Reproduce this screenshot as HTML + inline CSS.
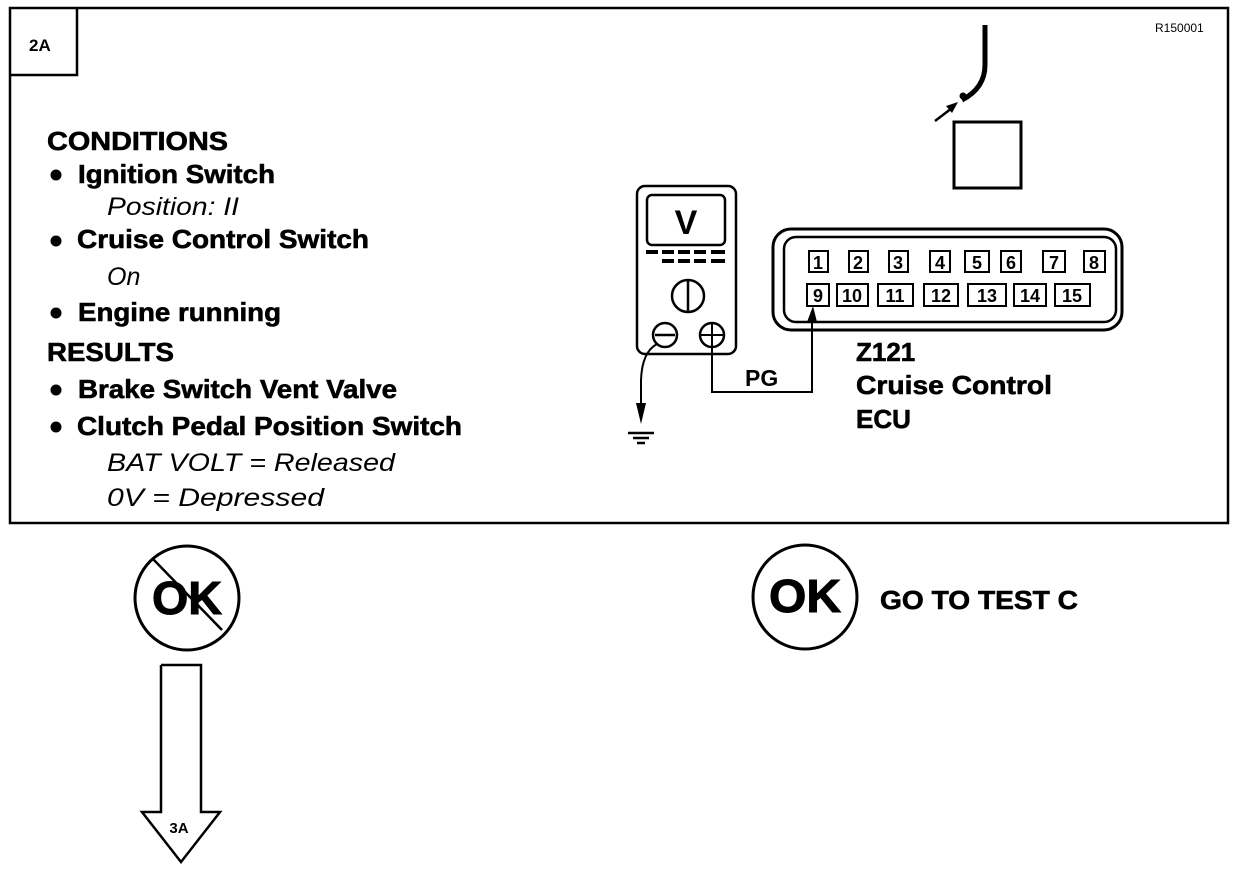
<!DOCTYPE html>
<html><head><meta charset="utf-8"><style>
html,body{margin:0;padding:0;background:#fff;}
svg{display:block;}
text{font-family:"Liberation Sans",Arial,sans-serif;fill:#000;}
.b{font-weight:bold;font-size:26px;stroke:#000;stroke-width:0.6;}
.i{font-style:italic;font-size:25px;}
</style></head><body>
<svg width="1248" height="872" viewBox="0 0 1248 872" xmlns="http://www.w3.org/2000/svg">
<rect x="10" y="8" width="1218" height="515" fill="none" stroke="#000" stroke-width="2.5"/>
<polyline points="10,75 77,75 77,8" fill="none" stroke="#000" stroke-width="2.5"/>
<text x="29" y="51" font-weight="bold" font-size="17">2A</text>
<text x="1155" y="32" font-size="12">R150001</text>

<text class="b" x="47" y="150" textLength="181" lengthAdjust="spacingAndGlyphs">CONDITIONS</text>
<circle cx="56" cy="175" r="5.5"/>
<text class="b" x="78" y="183" textLength="197" lengthAdjust="spacingAndGlyphs">Ignition Switch</text>
<text class="i" x="107" y="215" textLength="132" lengthAdjust="spacingAndGlyphs">Position: II</text>
<circle cx="56" cy="241" r="5.5"/>
<text class="b" x="77" y="248" textLength="292" lengthAdjust="spacingAndGlyphs">Cruise Control Switch</text>
<text class="i" x="107" y="285">On</text>
<circle cx="56" cy="313" r="5.5"/>
<text class="b" x="78" y="321" textLength="203" lengthAdjust="spacingAndGlyphs">Engine running</text>
<text class="b" x="47" y="361" textLength="127" lengthAdjust="spacingAndGlyphs">RESULTS</text>
<circle cx="56" cy="390" r="5.5"/>
<text class="b" x="78" y="398" textLength="319" lengthAdjust="spacingAndGlyphs">Brake Switch Vent Valve</text>
<circle cx="56" cy="427" r="5.5"/>
<text class="b" x="77" y="435" textLength="385" lengthAdjust="spacingAndGlyphs">Clutch Pedal Position Switch</text>
<text class="i" x="107" y="471" textLength="288" lengthAdjust="spacingAndGlyphs">BAT VOLT =  Released</text>
<text class="i" x="107" y="506" textLength="217" lengthAdjust="spacingAndGlyphs">0V =  Depressed</text>

<path d="M985,25 L985,65 Q985,88 962,100" fill="none" stroke="#000" stroke-width="5"/>
<circle cx="963" cy="96" r="3.5"/>
<line x1="935" y1="121" x2="952" y2="108" stroke="#000" stroke-width="2.5"/>
<polygon points="958,102 946,106 952,113" />
<rect x="954" y="122" width="67" height="66" fill="none" stroke="#000" stroke-width="3"/>

<rect x="637" y="186" width="99" height="168" rx="8" fill="none" stroke="#000" stroke-width="2.5"/>
<rect x="647" y="195" width="78" height="50" rx="5" fill="none" stroke="#000" stroke-width="2.5"/>
<text x="686" y="234" font-weight="bold" font-size="34" text-anchor="middle">V</text>
<g fill="#000">
<rect x="646" y="250" width="12" height="4"/><rect x="662" y="250" width="12" height="4"/><rect x="678" y="250" width="12" height="4"/><rect x="694" y="250" width="12" height="4"/><rect x="711" y="250" width="14" height="4"/>
<rect x="662" y="259" width="12" height="4"/><rect x="678" y="259" width="12" height="4"/><rect x="694" y="259" width="12" height="4"/><rect x="711" y="259" width="14" height="4"/>
</g>
<circle cx="688" cy="296" r="16" fill="none" stroke="#000" stroke-width="2.5"/>
<line x1="688" y1="280" x2="688" y2="312" stroke="#000" stroke-width="2.5"/>
<circle cx="665" cy="335" r="12" fill="none" stroke="#000" stroke-width="2.5"/>
<line x1="655" y1="335" x2="675" y2="335" stroke="#000" stroke-width="2.5"/>
<circle cx="712" cy="335" r="12" fill="none" stroke="#000" stroke-width="2.5"/>
<line x1="700" y1="335" x2="724" y2="335" stroke="#000" stroke-width="2"/>
<line x1="712" y1="323" x2="712" y2="347" stroke="#000" stroke-width="2"/>
<path d="M657,344 Q642,352 641,380 L641,412" fill="none" stroke="#000" stroke-width="2"/>
<polygon points="636,403 646,403 641,424"/>
<line x1="628" y1="433" x2="654" y2="433" stroke="#000" stroke-width="2.5"/>
<line x1="633" y1="438" x2="649" y2="438" stroke="#000" stroke-width="2.5"/>
<line x1="637" y1="443" x2="645" y2="443" stroke="#000" stroke-width="2.5"/>
<polyline points="712,347 712,392 812,392 812,316" fill="none" stroke="#000" stroke-width="2"/>
<polygon points="807,322 817,322 813,306"/>
<text x="745" y="386" font-weight="bold" font-size="23">PG</text>

<rect x="773" y="229" width="349" height="101" rx="18" fill="none" stroke="#000" stroke-width="3"/>
<rect x="784" y="237" width="332" height="85" rx="12" fill="none" stroke="#000" stroke-width="2.5"/>
<g fill="none" stroke="#000" stroke-width="2">
<rect x="809" y="251" width="19" height="21"/><rect x="849" y="251" width="19" height="21"/><rect x="889" y="251" width="19" height="21"/><rect x="930" y="251" width="20" height="21"/>
<rect x="965" y="251" width="24" height="21"/><rect x="1001" y="251" width="20" height="21"/><rect x="1043" y="251" width="22" height="21"/><rect x="1084" y="251" width="21" height="21"/>
<rect x="807" y="284" width="22" height="22"/><rect x="837" y="284" width="31" height="22"/><rect x="878" y="284" width="35" height="22"/><rect x="924" y="284" width="34" height="22"/>
<rect x="968" y="284" width="38" height="22"/><rect x="1014" y="284" width="32" height="22"/><rect x="1055" y="284" width="35" height="22"/>
</g>
<g font-size="18" font-weight="bold" text-anchor="middle">
<text x="818" y="269">1</text><text x="858" y="269">2</text><text x="898" y="269">3</text><text x="940" y="269">4</text>
<text x="977" y="269">5</text><text x="1011" y="269">6</text><text x="1054" y="269">7</text><text x="1094" y="269">8</text>
<text x="818" y="302">9</text><text x="852" y="302">10</text><text x="895" y="302">11</text><text x="941" y="302">12</text>
<text x="987" y="302">13</text><text x="1030" y="302">14</text><text x="1072" y="302">15</text>
</g>
<text class="b" x="856" y="361" font-size="25">Z121</text>
<text class="b" x="856" y="394" font-size="25" textLength="196" lengthAdjust="spacingAndGlyphs">Cruise Control</text>
<text class="b" x="856" y="428" font-size="25">ECU</text>

<circle cx="187" cy="598" r="52" fill="none" stroke="#000" stroke-width="3"/>
<text x="187" y="614" font-weight="bold" font-size="46" text-anchor="middle" textLength="70" lengthAdjust="spacingAndGlyphs" stroke="#000" stroke-width="1">OK</text>
<line x1="152" y1="558" x2="222" y2="630" stroke="#000" stroke-width="2.5"/>
<polyline points="161,665 201,665 201,812 220,812 181,862 142,812 161,812 161,665" fill="none" stroke="#000" stroke-width="2.5"/>
<text x="179" y="833" font-weight="bold" font-size="15" text-anchor="middle">3A</text>

<circle cx="805" cy="597" r="52" fill="none" stroke="#000" stroke-width="3"/>
<text x="805" y="612" font-weight="bold" font-size="46" text-anchor="middle" textLength="72" lengthAdjust="spacingAndGlyphs" stroke="#000" stroke-width="1">OK</text>
<text class="b" x="880" y="609" font-size="25" textLength="198" lengthAdjust="spacingAndGlyphs">GO TO TEST C</text>
</svg>
</body></html>
